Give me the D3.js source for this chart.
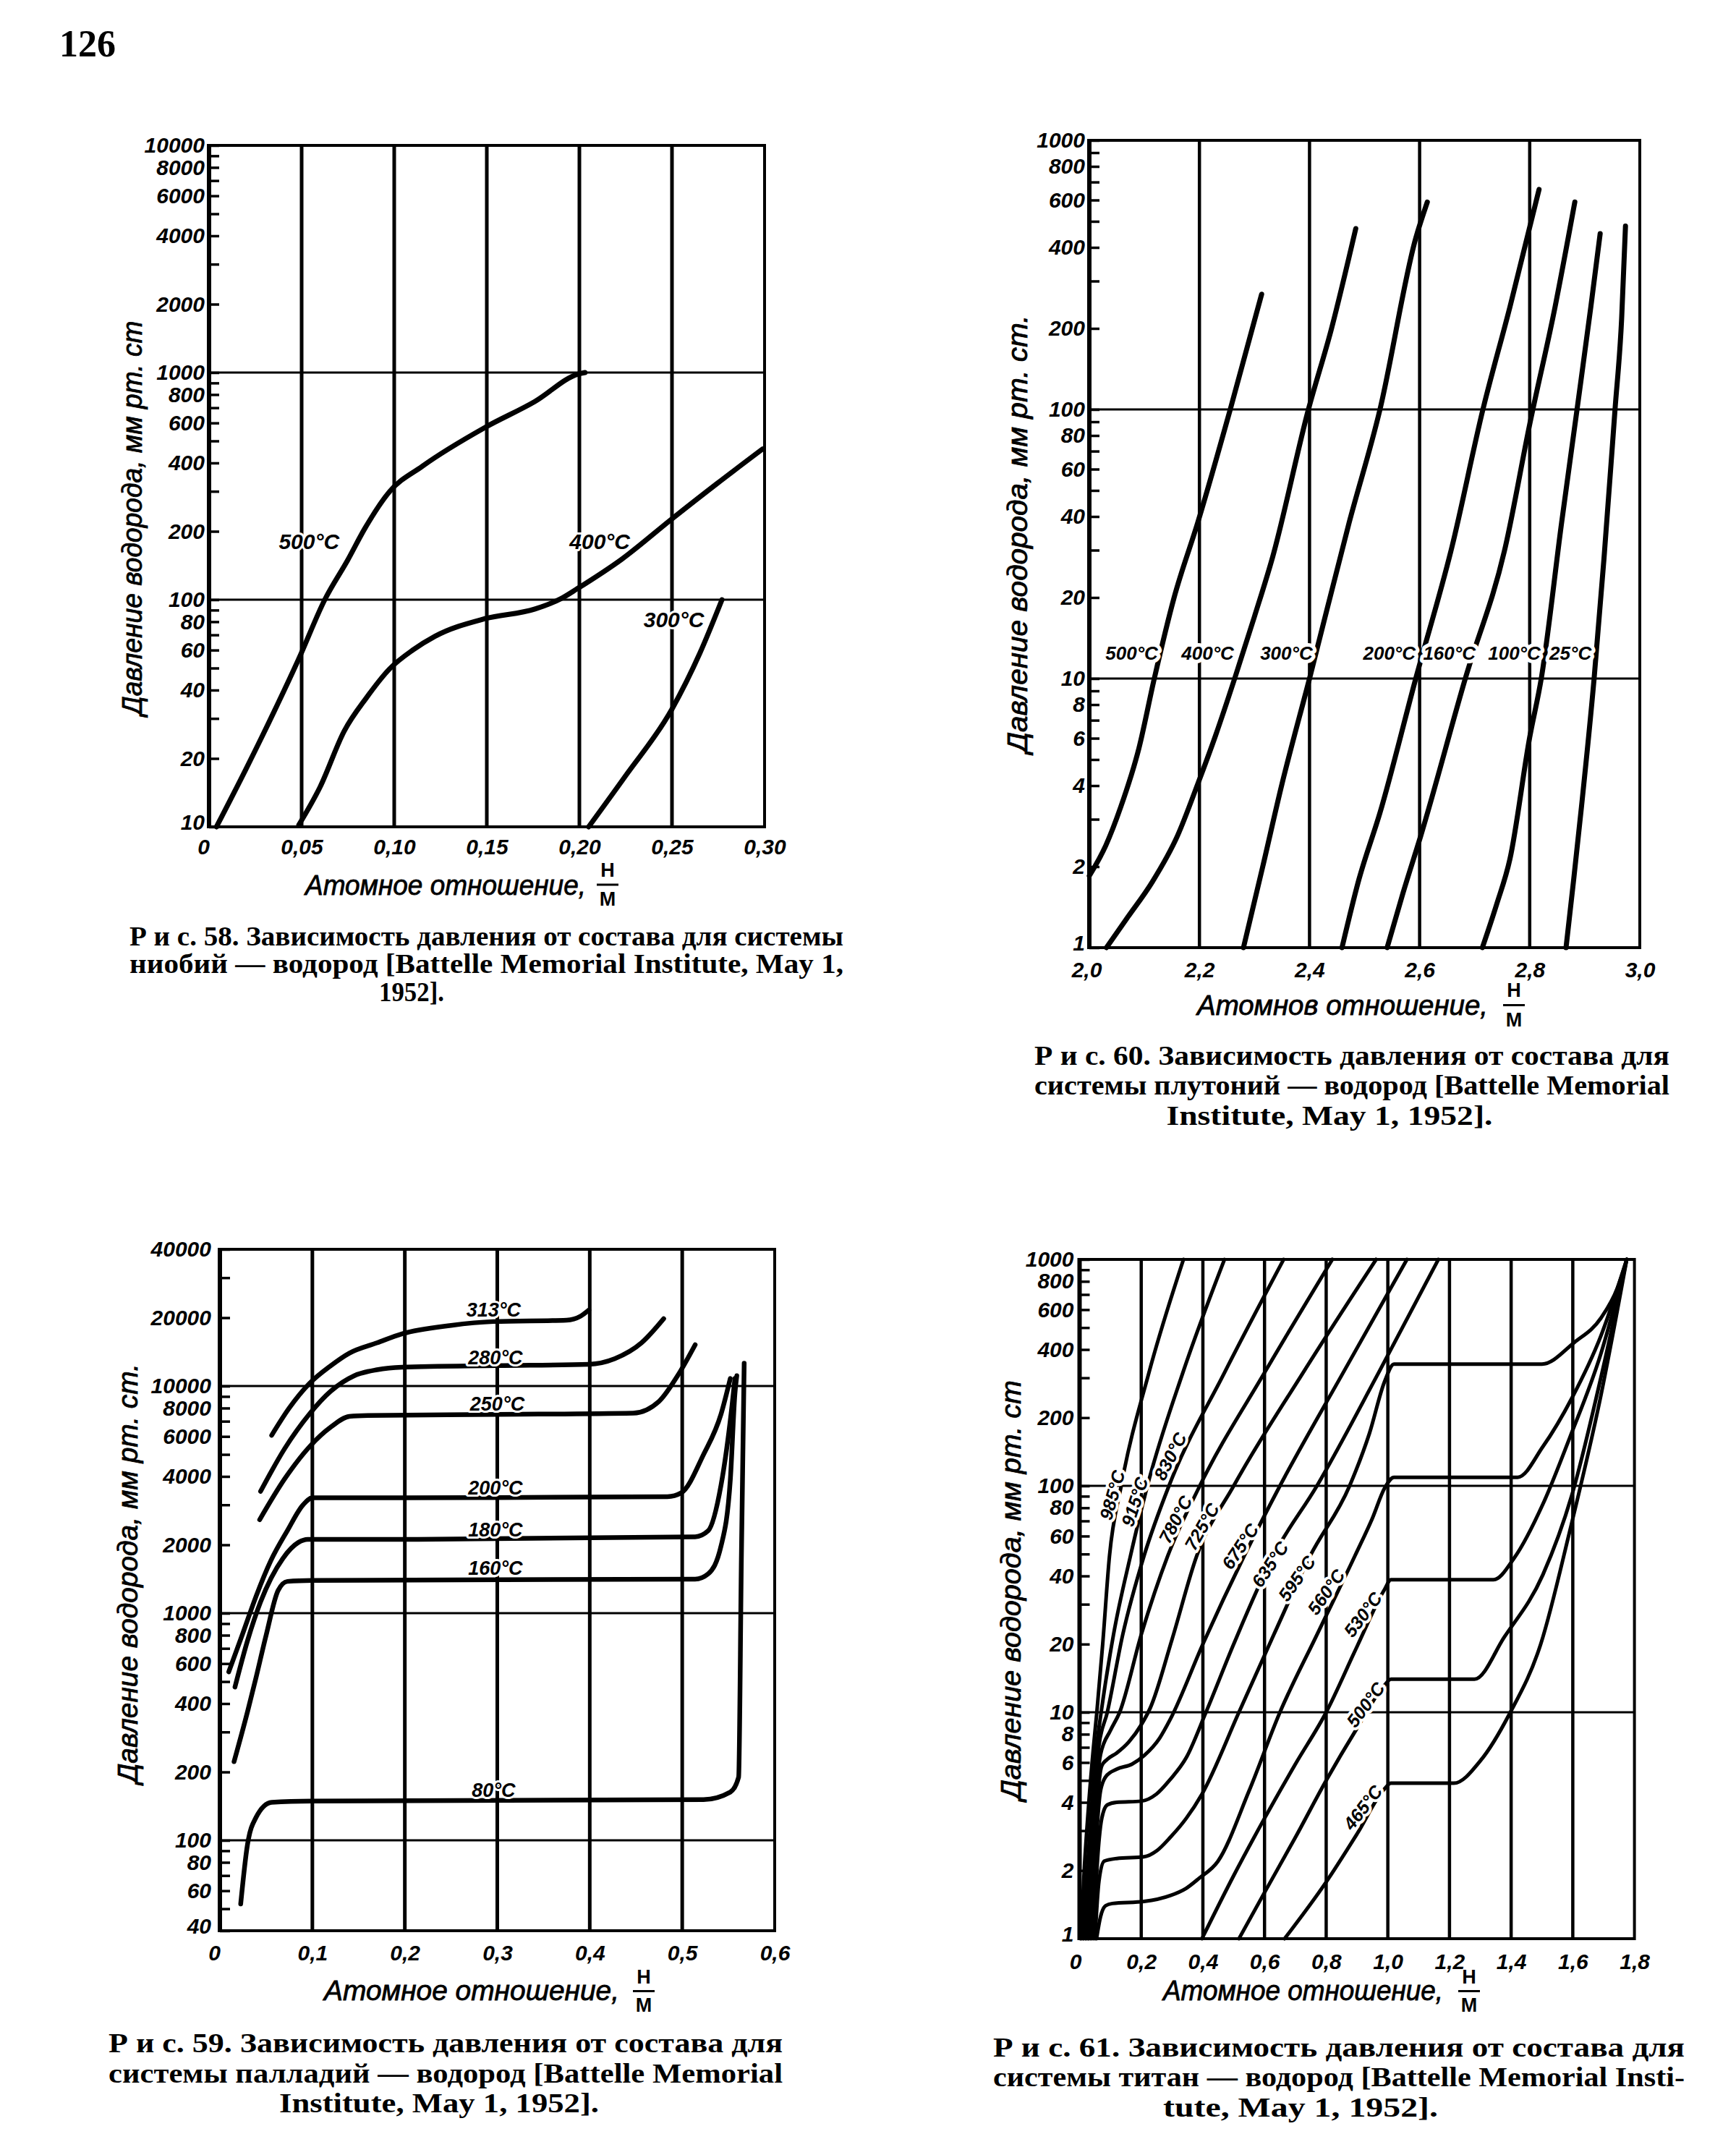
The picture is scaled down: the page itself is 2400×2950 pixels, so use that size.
<!DOCTYPE html>
<html><head><meta charset="utf-8">
<script src="https://cdn.jsdelivr.net/npm/d3@7/dist/d3.min.js"></script>
<style>html,body{margin:0;padding:0;background:#fff}svg{display:block}</style>
</head><body>
<svg id="page" width="2400" height="2950" xmlns="http://www.w3.org/2000/svg"></svg>
<script>
// ================= DATA =================
// ---- Fig. 58 : niobium - hydrogen
const fig58_xTicks = [0, 0.05, 0.10, 0.15, 0.20, 0.25, 0.30];
const fig58_xTickLabels = ["0","0,05","0,10","0,15","0,20","0,25","0,30"];
const fig58_yTicks = [10,20,40,60,80,100,200,400,600,800,1000,2000,4000,6000,8000,10000];
const fig58_hGrid = [100, 1000];
const fig58_series = ["500°C","400°C","300°C"];
const fig58_t500 = [[0.004,10],[0.02,18],[0.035,32],[0.0485,55],[0.0625,100],[0.075,150],[0.084,205],[0.0976,300],[0.115,386],[0.149,573],[0.176,746],[0.1994,985],[0.203,1000]];
const fig58_t400 = [[0.0485,10.2],[0.06,15],[0.073,26.4],[0.085,37],[0.0976,49.7],[0.11,60],[0.122,69],[0.149,82.5],[0.176,91],[0.19,101],[0.199,112],[0.223,151],[0.25,227],[0.274,323],[0.299,461]];
const fig58_t300 = [[0.205,10],[0.225,16.8],[0.25,33],[0.265,58],[0.277,100]];
const fig58_labelAt = [[0.054,181],[0.211,181],[0.251,82]];
const fig58_caption = ["Р и с. 58. Зависимость давления от состава для системы","ниобий — водород   [Battelle Memorial Institute, May 1,","1952]."];

// ---- Fig. 60 : plutonium - hydrogen
const fig60_xTicks = [2.0, 2.2, 2.4, 2.6, 2.8, 3.0];
const fig60_xTickLabels = ["2,0","2,2","2,4","2,6","2,8","3,0"];
const fig60_yTicks = [1,2,4,6,8,10,20,40,60,80,100,200,400,600,800,1000];
const fig60_hGrid = [10, 100];
const fig60_series = ["500°C","400°C","300°C","200°C","160°C","100°C","25°C"];
const fig60_t500 = [[2.0,1.85],[2.03,2.4],[2.057,3.33],[2.09,5.5],[2.118,10],[2.154,20],[2.197,38],[2.256,100],[2.313,268]];
const fig60_t400 = [[2.031,1],[2.07,1.3],[2.114,1.75],[2.16,2.6],[2.197,4.06],[2.23,6.2],[2.264,10],[2.3,17],[2.333,28.3],[2.398,100],[2.44,200],[2.484,470]];
const fig60_t300 = [[2.28,1],[2.315,2],[2.35,4.06],[2.40,10],[2.472,38],[2.528,100],[2.593,433],[2.614,590]];
const fig60_t200 = [[2.459,1],[2.49,1.8],[2.528,3.17],[2.593,10],[2.659,31],[2.715,100],[2.764,240],[2.817,657]];
const fig60_t160 = [[2.541,1],[2.57,1.6],[2.602,2.6],[2.683,10],[2.756,31],[2.80,88],[2.846,240],[2.882,590]];
const fig60_t100 = [[2.714,1],[2.74,1.45],[2.764,2.13],[2.80,6.05],[2.821,10],[2.858,38],[2.886,100],[2.911,240],[2.928,450]];
const fig60_t25 = [[2.866,1],[2.88,1.8],[2.894,3.33],[2.917,10],[2.935,28],[2.955,100],[2.967,217],[2.974,480]];
const fig60_labelAt = [[2.077,12.4],[2.215,12.4],[2.358,12.4],[2.545,12.4],[2.654,12.4],[2.772,12.4],[2.874,12.4]];
const fig60_caption = ["Р и с.  60. Зависимость давления от состава для","системы плутоний — водород  [Battelle  Memorial","Institute, May 1,  1952]."];

// ---- Fig. 59 : palladium - hydrogen
const fig59_xTicks = [0, 0.1, 0.2, 0.3, 0.4, 0.5, 0.6];
const fig59_xTickLabels = ["0","0,1","0,2","0,3","0,4","0,5","0,6"];
const fig59_yTicks = [40,60,80,100,200,400,600,800,1000,2000,4000,6000,8000,10000,20000,40000];
const fig59_hGrid = [100, 1000, 10000];
const fig59_series = ["313°C","280°C","250°C","200°C","180°C","160°C","80°C"];
const fig59_t313 = [[0.056,6070],[0.075,8000],[0.0968,10260],[0.12,12300],[0.14,13960],[0.17,15500],[0.197,16980],[0.25,18500],[0.296,19230],[0.375,19500],[0.39,20300],[0.399,21600]];
const fig59_t280 = [[0.044,3440],[0.07,5300],[0.0968,7530],[0.12,9500],[0.145,11090],[0.17,11800],[0.197,12100],[0.3,12300],[0.399,12470],[0.427,13200],[0.456,15500],[0.48,19800]];
const fig59_t250 = [[0.043,2580],[0.07,3900],[0.0968,5400],[0.12,6600],[0.14,7350],[0.16,7420],[0.3,7500],[0.447,7600],[0.475,8570],[0.495,11100],[0.514,15200]];
const fig59_t200 = [[0.0096,552],[0.025,820],[0.039,1183],[0.055,1700],[0.073,2310],[0.09,3000],[0.1,3220],[0.2,3220],[0.3,3230],[0.484,3260],[0.499,3390],[0.523,4990],[0.542,7530],[0.552,10800]];
const fig59_t180 = [[0.0163,473],[0.03,760],[0.044,1122],[0.068,1740],[0.085,2050],[0.095,2114],[0.2,2114],[0.514,2170],[0.528,2305],[0.542,3670],[0.554,8300],[0.557,10800]];
const fig59_t160 = [[0.0153,222],[0.03,370],[0.039,519],[0.05,800],[0.063,1260],[0.073,1380],[0.1,1394],[0.514,1413],[0.528,1490],[0.542,1977],[0.552,3860],[0.557,9270],[0.559,11100]];
const fig59_t80 = [[0.0225,52.5],[0.0297,95],[0.039,126],[0.056,147],[0.1,149],[0.523,151],[0.552,163],[0.561,190],[0.564,1780],[0.567,12600]];
const fig59_labelAt = [[0.296,21600],[0.298,13400],[0.30,8350],[0.298,3570],[0.298,2330],[0.298,1585],[0.296,167]];
const fig59_caption = ["Р и с.  59. Зависимость давления от состава  для","системы палладий — водород  [Battelle  Memorial","Institute, May 1, 1952]."];

// ---- Fig. 61 : titanium - hydrogen
const fig61_xTicks = [0, 0.2, 0.4, 0.6, 0.8, 1.0, 1.2, 1.4, 1.6, 1.8];
const fig61_xTickLabels = ["0","0,2","0,4","0,6","0,8","1,0","1,2","1,4","1,6","1,8"];
const fig61_yTicks = [1,2,4,6,8,10,20,40,60,80,100,200,400,600,800,1000];
const fig61_hGrid = [10, 100];
const fig61_series = ["985°C","915°C","830°C","780°C","725°C","675°C","635°C","595°C","560°C","530°C","500°C","465°C"];
const fig61_t985 = [[0.004,1],[0.015,2],[0.03,4],[0.045,7],[0.056,10],[0.075,20],[0.097,49],[0.135,100],[0.225,316],[0.337,1000]];
const fig61_t915 = [[0.012,1],[0.025,2],[0.04,4],[0.055,7],[0.07,10],[0.11,22],[0.165,49],[0.22,100],[0.335,316],[0.47,1000]];
const fig61_t830 = [[0.02,1],[0.032,2],[0.045,4],[0.062,7],[0.09,10],[0.14,22],[0.209,49],[0.29,100],[0.47,316],[0.662,1000]];
const fig61_t780 = [[0.028,1],[0.04,2],[0.052,4],[0.068,6.5],[0.1,8.3],[0.13,10],[0.2,22],[0.286,49],[0.39,100],[0.6,316],[0.82,1000]];
const fig61_t725 = [[0.035,1],[0.047,2],[0.058,4],[0.072,5.8],[0.09,6.2],[0.12,6.6],[0.16,7.4],[0.2,8.8],[0.23,10.5],[0.3,21],[0.38,49],[0.5,100],[0.725,316],[0.962,1000]];
const fig61_t675 = [[0.04,1],[0.053,2.5],[0.068,4.5],[0.085,5.2],[0.12,5.6],[0.17,5.9],[0.21,6.45],[0.26,7.7],[0.294,9.3],[0.4,20],[0.534,49],[0.65,100],[0.855,316],[1.062,1000]];
const fig61_t635 = [[0.045,1],[0.058,2.2],[0.072,3.4],[0.09,3.9],[0.12,4.0],[0.2,4.05],[0.25,4.36],[0.294,5.05],[0.346,6.3],[0.41,10],[0.5,20],[0.628,49],[0.77,100],[0.97,316],[1.164,1000]];
const fig61_t595 = [[0.05,1],[0.063,1.8],[0.08,2.2],[0.12,2.26],[0.209,2.3],[0.251,2.45],[0.294,2.8],[0.346,3.4],[0.397,4.35],[0.517,10],[0.63,22],[0.748,49],[0.876,100],[0.94,170],[0.99,290],[1.02,345],[1.5,345],[1.605,430],[1.691,550],[1.745,750],[1.775,1000]];
const fig61_t560 = [[0.055,1],[0.068,1.25],[0.085,1.4],[0.106,1.43],[0.209,1.46],[0.294,1.55],[0.346,1.67],[0.388,1.85],[0.448,2.19],[0.55,4.5],[0.65,10],[0.77,22],[0.893,49],[0.95,72],[0.99,98],[1.02,109],[1.421,109],[1.503,149],[1.597,244],[1.691,459],[1.775,1000]];
const fig61_t530 = [[0.397,1],[0.5,1.9],[0.6,3.4],[0.7,5.9],[0.8,10],[0.9,19.5],[0.99,35],[1.01,38.5],[1.343,38.5],[1.41,48],[1.503,83],[1.59,163],[1.691,383],[1.775,1000]];
const fig61_t500 = [[0.517,1],[0.6,1.6],[0.7,2.8],[0.8,5.0],[0.9,8.5],[0.99,13.2],[1.01,14],[1.281,14],[1.378,21.5],[1.503,40.5],[1.597,91],[1.691,300],[1.775,1000]];
const fig61_t465 = [[0.665,1],[0.8,1.78],[0.9,2.9],[0.99,4.6],[1.01,4.86],[1.214,4.86],[1.3,6.1],[1.394,9.8],[1.496,20],[1.59,63],[1.691,250],[1.775,1000]];
const fig61_labelAt = [[0.106,91],[0.179,85],[0.294,135],[0.311,71],[0.397,66],[0.521,54],[0.618,45],[0.705,39],[0.80,34],[0.919,27],[0.928,10.8],[0.919,3.8]];
const fig61_labelAngle = [-74,-72,-63,-62,-60,-56,-56,-55,-55,-53,-53,-52];
const fig61_caption = ["Р и с.  61. Зависимость  давления от  состава для","системы титан — водород [Battelle  Memorial  Insti-","tute, May 1, 1952]."];

const pageNumber = "126";

// ================= DRAWING =================
const SANS = "'Liberation Sans', Arial, sans-serif";
const SERIF = "'Liberation Serif', 'Times New Roman', serif";
const svg = d3.select("#page");
svg.append("rect").attr("width",2400).attr("height",2950).attr("fill","#fff");

svg.append("text").attr("x",82).attr("y",78).attr("font-family",SERIF).attr("font-weight","bold")
  .attr("font-size",52).text(pageNumber);

function drawChart(c){
  const g = svg.append("g");
  const x = d3.scaleLinear().domain([c.xTicks[0], c.xTicks[c.xTicks.length-1]]).range([c.left,c.right]);
  const y = d3.scaleLog().domain([c.yTicks[0], c.yTicks[c.yTicks.length-1]]).range([c.bottom,c.top]);

  // grid
  g.append("g").selectAll("line").data(c.xTicks.slice(1,-1)).join("line")
    .attr("x1",d=>x(d)).attr("x2",d=>x(d)).attr("y1",c.top).attr("y2",c.bottom)
    .attr("stroke","#000").attr("stroke-width",c.vgW);
  g.append("g").selectAll("line").data(c.hGrid).join("line")
    .attr("x1",c.left).attr("x2",c.right).attr("y1",d=>y(d)).attr("y2",d=>y(d))
    .attr("stroke","#000").attr("stroke-width",c.hgW);

  // inner ticks
  const ta = g.append("g").attr("transform",`translate(${c.left},0)`)
    .call(d3.axisRight(y).tickValues(y.ticks()).tickSize(c.tickLen).tickFormat(""));
  ta.select(".domain").remove();
  ta.selectAll("line").attr("stroke","#000").attr("stroke-width",3.5);

  // frame
  g.append("rect").attr("x",c.left).attr("y",c.top).attr("width",c.right-c.left).attr("height",c.bottom-c.top)
    .attr("fill","none").attr("stroke","#000").attr("stroke-width",4);
  g.append("line").attr("x1",c.left).attr("x2",c.left).attr("y1",c.top-2).attr("y2",c.bottom+2)
    .attr("stroke","#000").attr("stroke-width",6);

  // y tick labels
  const ya = g.append("g").attr("transform",`translate(${c.left},0)`)
    .call(d3.axisLeft(y).tickValues(c.yTicks).tickSize(0).tickPadding(c.yPad).tickFormat(d=>String(d)));
  ya.select(".domain").remove();
  ya.selectAll("text").attr("font-family",SANS).attr("font-size",c.tickFont).attr("font-weight","bold")
    .attr("font-style","italic").attr("fill","#000")
    .attr("dy",(d,i)=> i===0 ? "0.1em" : "0.32em");

  // x tick labels
  const xa = g.append("g").attr("transform",`translate(0,${c.bottom})`)
    .call(d3.axisBottom(x).tickValues(c.xTicks).tickSize(0).tickFormat((d,i)=>c.xTickLabels[i]));
  xa.select(".domain").remove();
  xa.selectAll("text").attr("y",c.xLabOff).attr("dy","0.35em").attr("font-family",SANS)
    .attr("font-size",c.tickFont).attr("font-weight","bold").attr("font-style","italic").attr("fill","#000")
    .attr("dx",(d,i)=> i===0 ? c.firstShift : 0);

  // curves
  const line = d3.line().x(d=>x(d[0])).y(d=>y(d[1])).curve(d3.curveMonotoneX);
  g.append("g").selectAll("path").data(c.curves).join("path")
    .attr("d",line).attr("fill","none").attr("stroke","#000").attr("stroke-width",c.curveW)
    .attr("stroke-linecap","round").attr("stroke-linejoin","round");

  // curve labels
  g.append("g").selectAll("text").data(c.series).join("text")
    .attr("transform",(d,i)=>`translate(${x(c.labelAt[i][0])},${y(c.labelAt[i][1])}) rotate(${c.labelAngle?c.labelAngle[i]:0})`)
    .attr("text-anchor","middle").attr("dy","0.35em")
    .attr("font-family",SANS).attr("font-size",c.labFont).attr("font-weight","bold").attr("font-style","italic")
    .attr("fill","#000").attr("stroke","#fff").attr("stroke-width",c.halo).attr("paint-order","stroke")
    .attr("stroke-linejoin","round").text(d=>d);

  // x title
  g.append("text").attr("x",c.xt.start).attr("y",c.xt.cy).attr("dy","0.35em")
    .attr("font-family",SANS).attr("font-style","italic").attr("font-size",38)
    .attr("textLength",c.xt.len).attr("lengthAdjust","spacingAndGlyphs").attr("fill","#000")
    .attr("stroke","#000").attr("stroke-width",0.8).text(c.xt.text);
  g.append("text").attr("x",c.xt.fx).attr("y",c.xt.hy).attr("dy","0.35em").attr("text-anchor","middle")
    .attr("font-family",SANS).attr("font-weight","bold").attr("font-size",27).text("H");
  g.append("line").attr("x1",c.xt.fx-15).attr("x2",c.xt.fx+15).attr("y1",(c.xt.hy+c.xt.my)/2).attr("y2",(c.xt.hy+c.xt.my)/2)
    .attr("stroke","#000").attr("stroke-width",3);
  g.append("text").attr("x",c.xt.fx).attr("y",c.xt.my).attr("dy","0.35em").attr("text-anchor","middle")
    .attr("font-family",SANS).attr("font-weight","bold").attr("font-size",27).text("M");

  // y title
  g.append("text").attr("transform",`translate(${c.yt.cx},${c.yt.cy}) rotate(-90)`)
    .attr("text-anchor","middle").attr("dy","0.35em")
    .attr("font-family",SANS).attr("font-style","italic").attr("font-size",38)
    .attr("textLength",c.yt.len).attr("lengthAdjust","spacingAndGlyphs").attr("fill","#000")
    .attr("stroke","#000").attr("stroke-width",0.8).text(c.yt.text);

  // caption
  const cap = c.cap;
  c.caption.forEach((t,i)=>{
    const last = i===c.caption.length-1;
    const tx = g.append("text").attr("y",cap.base[i]).attr("font-family",SERIF).attr("font-weight","bold")
      .attr("font-size",38).attr("fill","#000").attr("lengthAdjust","spacingAndGlyphs").text(t);
    if(last){ tx.attr("x",cap.lastCx).attr("text-anchor","middle").attr("textLength",cap.lastLen); }
    else { tx.attr("x",cap.x0).attr("textLength",cap.x1-cap.x0); }
  });
}

drawChart({
  left:289, right:1057, top:201, bottom:1143,
  xTicks:fig58_xTicks, xTickLabels:fig58_xTickLabels, yTicks:fig58_yTicks, hGrid:fig58_hGrid,
  vgW:5, hgW:3, tickLen:14, yPad:6, tickFont:30, xLabOff:27, firstShift:-8,
  curves:[fig58_t500,fig58_t400,fig58_t300], curveW:7,
  series:fig58_series, labelAt:fig58_labelAt, labFont:30, halo:6,
  xt:{text:"Атомное отношение,", start:422, len:388, cy:1224, fx:840, hy:1203, my:1243},
  yt:{text:"Давление водорода, мм рт. ст", cx:183, cy:716, len:545},
  caption:fig58_caption, cap:{x0:179, x1:1166, base:[1307,1345,1384], lastCx:569, lastLen:90}
});

drawChart({
  left:1506, right:2267, top:194, bottom:1310,
  xTicks:fig60_xTicks, xTickLabels:fig60_xTickLabels, yTicks:fig60_yTicks, hGrid:fig60_hGrid,
  vgW:4.5, hgW:3, tickLen:14, yPad:6, tickFont:30, xLabOff:30, firstShift:-4,
  curves:[fig60_t500,fig60_t400,fig60_t300,fig60_t200,fig60_t160,fig60_t100,fig60_t25], curveW:7,
  series:fig60_series, labelAt:fig60_labelAt, labFont:26, halo:10,
  xt:{text:"Атомнов отношение,", start:1655, len:402, cy:1390, fx:2093, hy:1369, my:1410},
  yt:{text:"Давление водорода, мм рт. ст.", cx:1407, cy:738, len:605},
  caption:fig60_caption, cap:{x0:1430, x1:2308, base:[1472,1513,1555], lastCx:1838, lastLen:451}
});

drawChart({
  left:304, right:1071, top:1727, bottom:2669,
  xTicks:fig59_xTicks, xTickLabels:fig59_xTickLabels, yTicks:fig59_yTicks, hGrid:fig59_hGrid,
  vgW:5, hgW:3, tickLen:14, yPad:12, tickFont:30, xLabOff:30, firstShift:-8,
  curves:[fig59_t313,fig59_t280,fig59_t250,fig59_t200,fig59_t180,fig59_t160,fig59_t80], curveW:6.5,
  series:fig59_series, labelAt:fig59_labelAt, labFont:27, halo:6,
  xt:{text:"Атомное отношение,", start:448, len:408, cy:2752, fx:890, hy:2733, my:2772},
  yt:{text:"Давление водорода, мм рт. ст.", cx:177, cy:2175, len:580},
  caption:fig59_caption, cap:{x0:150, x1:1082, base:[2837,2879,2920], lastCx:607, lastLen:442}
});

drawChart({
  left:1492.5, right:2259.6, top:1741, bottom:2680,
  xTicks:fig61_xTicks, xTickLabels:fig61_xTickLabels, yTicks:fig61_yTicks, hGrid:fig61_hGrid,
  vgW:4.5, hgW:3, tickLen:14, yPad:8, tickFont:30, xLabOff:31, firstShift:-6,
  curves:[fig61_t985,fig61_t915,fig61_t830,fig61_t780,fig61_t725,fig61_t675,fig61_t635,fig61_t595,fig61_t560,fig61_t530,fig61_t500,fig61_t465], curveW:5,
  series:fig61_series, labelAt:fig61_labelAt, labelAngle:fig61_labelAngle, labFont:25, halo:8,
  xt:{text:"Атомное отношение,", start:1608, len:387, cy:2752, fx:2031, hy:2733, my:2772},
  yt:{text:"Давление водорода, мм рт. ст", cx:1398, cy:2198, len:580},
  caption:fig61_caption, cap:{x0:1373, x1:2329, base:[2843,2884,2926], lastCx:1798, lastLen:380}
});
</script>
</body></html>
